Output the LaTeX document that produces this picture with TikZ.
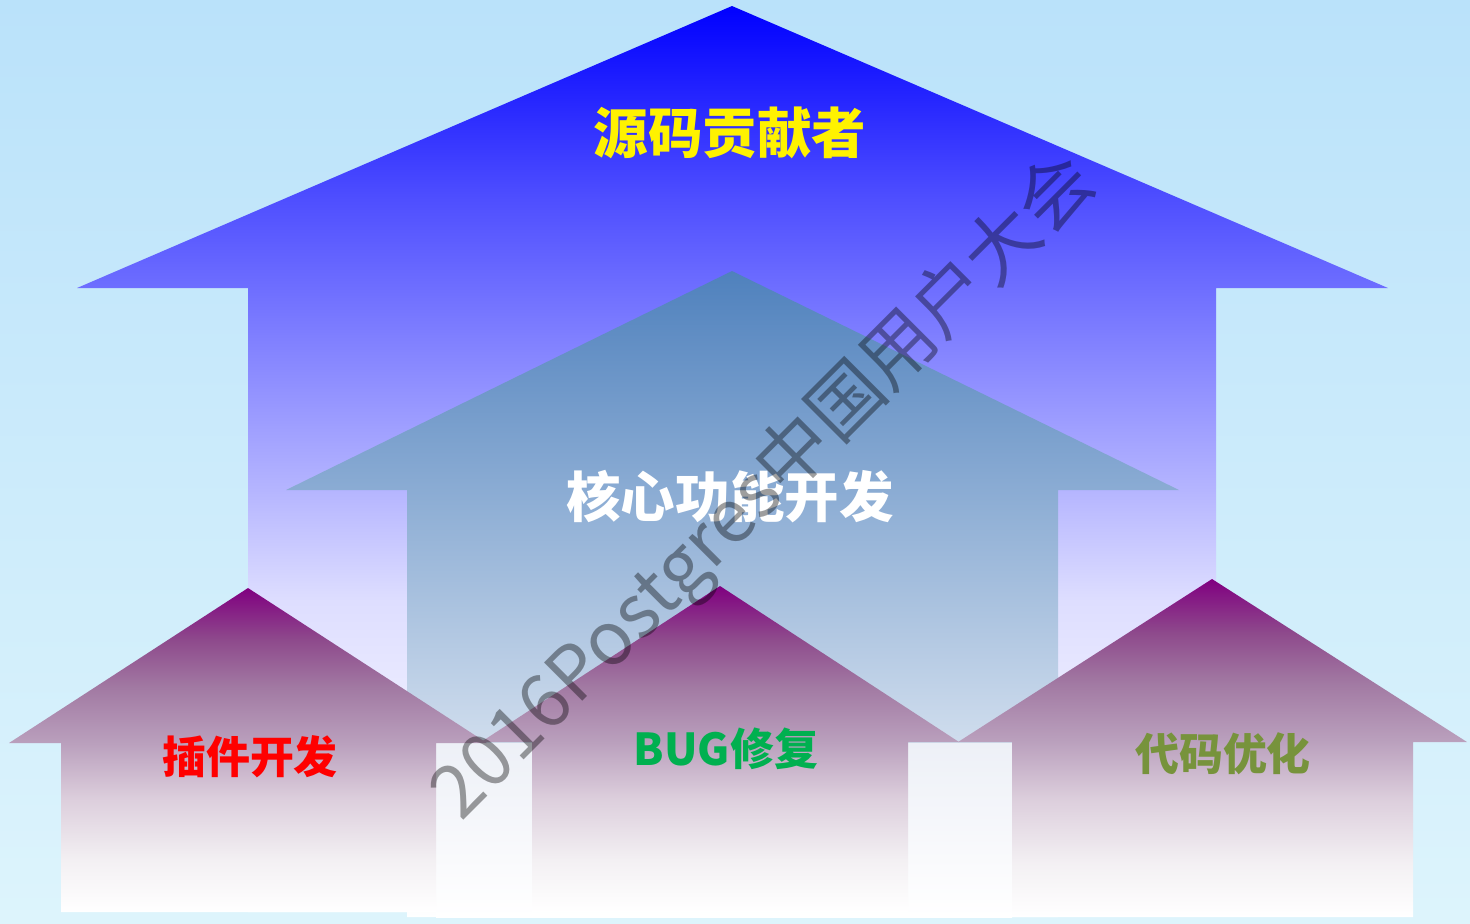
\documentclass[tikz,border=0pt]{standalone}
\usepackage{fontspec}
\newfontfamily\cjk{Noto Sans CJK SC}
\definecolor{bgtop}{HTML}{BAE2FA}
\definecolor{bgbot}{HTML}{DDF4FC}
\definecolor{steel}{HTML}{4F81BD}
\definecolor{wrtop}{HTML}{EDF0F7}
\definecolor{pA}{HTML}{800080}
\definecolor{pB}{HTML}{8E4A8C}
\definecolor{pC}{HTML}{A27AA3}
\definecolor{pD}{HTML}{BAA0BD}
\definecolor{pE}{HTML}{DCCEDC}
\definecolor{pF}{HTML}{F3F0F3}
\definecolor{lblgreen}{HTML}{00B050}
\definecolor{lblolive}{HTML}{77933C}
\pgfdeclareverticalshading{bigblue}{100bp}{color(0bp)=(white); color(25bp)=(white); color(34.33bp)=(blue!6!white); color(42.22bp)=(blue!13!white); color(48.29bp)=(blue!29!white); color(64.29bp)=(blue!69!white); color(75bp)=(blue); color(100bp)=(blue)}
\pgfdeclareverticalshading{purp}{100bp}{color(0bp)=(white); color(25bp)=(white); color(33bp)=(pF); color(42.5bp)=(pE); color(51bp)=(pD); color(59.5bp)=(pC); color(67bp)=(pB); color(75bp)=(pA); color(100bp)=(pA)}
\tikzset{
  lbl/.style={inner sep=0pt, font=\cjk\bfseries\fontsize{15.5}{18}\selectfont},
  sml/.style={inner sep=0pt, font=\cjk\bfseries\fontsize{12.5}{15}\selectfont},
  wm/.style={inner sep=0pt, font=\cjk\fontsize{21}{24}\selectfont, text=black, text opacity=0.38},
  purplearrow/.style={shading=purp},
}
\begin{document}
\begin{tikzpicture}[x=0.01cm,y=-0.01cm]
\useasboundingbox (0,0) rectangle (1470,923);
% background
\shade[top color=bgtop, bottom color=bgbot] (0,0) rectangle (1470,923);
% big blue arrow
\shade[shading=bigblue] (732,6) -- (1388,288) -- (1216,288) -- (1216,912) -- (248,912) -- (248,288) -- (77,288) -- cycle;
% steel arrow
\shade[top color=steel, bottom color=white] (732,271) -- (1179,490) -- (1058,490) -- (1058,917) -- (407,917) -- (407,490) -- (286,490) -- cycle;
% pale block between the lower arrows
\shade[top color=wrtop, bottom color=white] (436,743) rectangle (1012,917);
% lower purple arrows
\shade[purplearrow] (248,588) -- (487,743) -- (436,743) -- (436,912) -- (61,912) -- (61,743) -- (9,743) -- cycle;
\shade[purplearrow] (720,586) -- (959,742) -- (908,742) -- (908,912) -- (532,912) -- (532,742) -- (481,742) -- cycle;
\shade[purplearrow] (1212,579) -- (1467,742) -- (1413,742) -- (1413,917) -- (1012,917) -- (1012,742) -- (958,742) -- cycle;
% labels
\node[lbl, text=yellow] (top) at (730,133) {源码贡献者};
\node[lbl, text=white] (core) at (730,497) {核心功能开发};
\node[sml, text=red] (plug) at (250,757) {插件开发};
\node[sml, text=lblgreen] (bug) at (726,749) {BUG修复};
\node[sml, text=lblolive] (opt) at (1223,754) {代码优化};
% watermark
\node[wm, rotate=45] (mark) at (765,488) {2016Postgres中国用户大会};
\end{tikzpicture}
\end{document}
